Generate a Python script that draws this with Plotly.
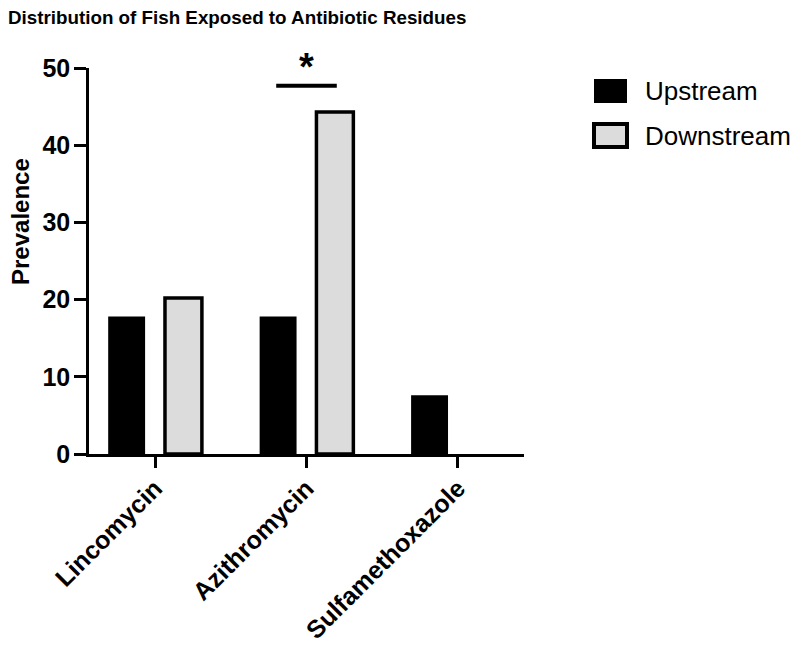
import plotly.graph_objects as go

categories = ["Lincomycin", "Azithromycin", "Sulfamethoxazole"]
upstream = [17.8, 17.8, 7.6]
downstream = [20.2, 44.3, 0]
series_names = ["Upstream", "Downstream"]
y_ticks = [0, 10, 20, 30, 40, 50]
sig_pair = ("Azithromycin", 47.7, "*")

FONT = "Liberation Sans, Arial, sans-serif"

fig = go.Figure()
fig.add_trace(go.Bar(x=categories, y=upstream, name=series_names[0],
                     marker=dict(color="#000000", line=dict(color="#000000", width=0))))
fig.add_trace(go.Bar(x=categories, y=downstream, name=series_names[1],
                     marker=dict(color="#dcdcdc",
                                 line=dict(color="#000000",
                                           width=[3.5 if v > 0 else 0 for v in downstream]))))

# significance bar
ci = categories.index(sig_pair[0])
fig.add_shape(type="line", xref="x", yref="y", x0=ci - 0.2, x1=ci + 0.2,
              y0=sig_pair[1], y1=sig_pair[1], line=dict(color="#000000", width=4))
fig.add_annotation(x=ci, y=sig_pair[1], xref="x", yref="y", text="<b>" + sig_pair[2] + "</b>",
                   showarrow=False, yanchor="bottom", yshift=-4,
                   font=dict(family=FONT, size=38, color="#000000"))

# manual legend
L, T, B = 89, 68, 454
W, H = 524 - L, B - T
def px(x): return (x - L) / W
def py(y): return (B - y) / H
swatches = [(79, 103, "#000000", 0), (124, 147, "#dcdcdc", 4)]
for (y0, y1, col, lw), name in zip(swatches, series_names):
    fig.add_shape(type="rect", xref="paper", yref="paper",
                  x0=px(594), x1=px(627), y0=py(y1), y1=py(y0),
                  fillcolor=col, line=dict(color="#000000", width=lw))
    fig.add_annotation(xref="paper", yref="paper", x=px(643), y=py((y0 + y1) / 2),
                       text=name, showarrow=False, xanchor="left", yanchor="middle",
                       font=dict(family=FONT, size=26, color="#000000"))

# y axis title as annotation
fig.add_annotation(xref="paper", yref="paper", x=px(20), y=py(222), text="Prevalence",
                   textangle=-90, showarrow=False, xanchor="center", yanchor="middle",
                   font=dict(family=FONT, size=24, color="#000000", weight="bold"))

fig.update_layout(
    width=800, height=648,
    margin=dict(l=L, r=800 - 524, t=T, b=648 - B, autoexpand=False),
    plot_bgcolor="white", paper_bgcolor="white",
    showlegend=False,
    barmode="group", bargap=0.25, bargroupgap=0.35,
    title=dict(text="Distribution of Fish Exposed to Antibiotic Residues",
               x=8 / 800, xanchor="left", xref="container",
               y=1 - 17 / 648, yanchor="middle", yref="container",
               font=dict(family=FONT, size=18.8, color="#000000", weight="bold")),
    xaxis=dict(type="category", range=[-0.436, 2.436], showline=True, linecolor="#000000",
               linewidth=2.5, ticks="outside", ticklen=11, tickwidth=2.5, tickcolor="#000000",
               tickangle=-45, showgrid=False, zeroline=False, automargin=False,
               ticklabelstandoff=-4,
               tickfont=dict(family=FONT, size=25, color="#000000", weight="bold")),
    yaxis=dict(range=[0, 50], tickvals=y_ticks, showline=True, linecolor="#000000",
               linewidth=2.5, ticks="outside", ticklen=12, tickwidth=2.5, tickcolor="#000000",
               showgrid=False, zeroline=False, ticklabelstandoff=-1, automargin=False,
               tickfont=dict(family=FONT, size=25, color="#000000", weight="bold")),
)

fig.write_html("out.html", config={"displayModeBar": False},
               post_script="document.body.style.margin='0';document.body.style.overflow='hidden';")
